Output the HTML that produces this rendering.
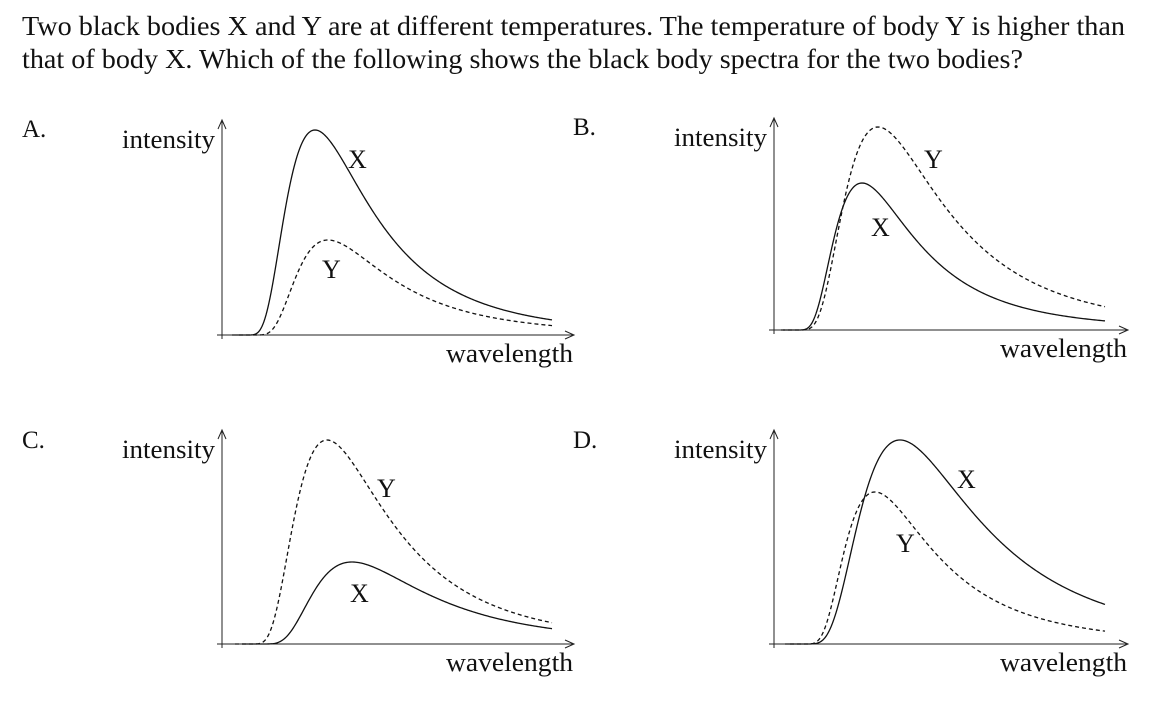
<!DOCTYPE html>
<html><head><meta charset="utf-8"><style>
body{margin:0;background:#fff;width:1158px;height:703px;overflow:hidden}
svg{position:absolute;left:0;top:0}
text{font-family:"Liberation Serif","DejaVu Serif",serif;fill:#111}
</style></head><body>
<svg id="s" width="1158" height="703" viewBox="0 0 1158 703">
<text x="22" y="35" font-size="27" textLength="1103" lengthAdjust="spacingAndGlyphs">Two black bodies X and Y are at different temperatures.  The temperature of body Y is higher than</text>
<text x="22" y="68" font-size="27" textLength="1001" lengthAdjust="spacingAndGlyphs">that of body X.  Which of the following shows the black body spectra for the two bodies?</text>
</svg>
<script>
var s=document.getElementById('s'),NS='http://www.w3.org/2000/svg';
function el(t,a,txt){var e=document.createElementNS(NS,t);for(var k in a)e.setAttribute(k,a[k]);if(txt)e.textContent=txt;s.appendChild(e);}
var A=4.3;
function P(u){return Math.pow(u,-A)*Math.exp(A-A/u);}
function curve(st,px,h,base,xe,dash){var x0=(st-0.22*px)/0.78;var d='';for(var x=Math.floor(x0)+1;x<=xe;x+=1){var u=(x-x0)/(px-x0);var y=base-h*P(u);d+=(d?'L':'M')+x+' '+y.toFixed(2);}
var a={d:d,fill:'none',stroke:'#111','stroke-width':1.3};if(dash)a['stroke-dasharray']='4,3';el('path',a);}
function axes(ax,top,base,right,letter,lx,ly){
el('line',{x1:ax,y1:base+4,x2:ax,y2:top,stroke:'#222','stroke-width':1});
el('line',{x1:ax-5,y1:base,x2:right,y2:base,stroke:'#222','stroke-width':1});
el('path',{d:'M'+(ax-4)+' '+(top+9)+'L'+ax+' '+top+'L'+(ax+4)+' '+(top+9),fill:'none',stroke:'#222'});
el('path',{d:'M'+(right-9)+' '+(base-4)+'L'+right+' '+base+'L'+(right-9)+' '+(base+4),fill:'none',stroke:'#222'});
el('text',{x:ax-100,y:top+28,'font-size':26,textLength:93,lengthAdjust:'spacingAndGlyphs'},'intensity');
el('text',{x:right-128,y:base+27,'font-size':26,textLength:127,lengthAdjust:'spacingAndGlyphs'},'wavelength');
el('text',{x:lx,y:ly,'font-size':25},letter);}
// A
axes(222,120,335,574,'A.',22,137);
curve(250,315,205,335,552,false);
curve(258,328,95,335,552,true);
el('text',{x:348,y:168,'font-size':26},'X');el('text',{x:322,y:278,'font-size':26},'Y');
// B
axes(774,118,330,1128,'B.',573,135);
curve(802,878,203,330,1105,true);
curve(800,862,147,330,1105,false);
el('text',{x:924,y:168,'font-size':26},'Y');el('text',{x:871,y:236,'font-size':26},'X');
// C
axes(222,430,644,574,'C.',22,448);
curve(255,327,204,644,552,true);
curve(266,352,82,644,552,false);
el('text',{x:377,y:497,'font-size':26},'Y');el('text',{x:350,y:602,'font-size':26},'X');
// D
axes(774,430,644,1128,'D.',573,448);
curve(810,900,204,644,1105,false);
curve(808,875,152,644,1105,true);
el('text',{x:957,y:488,'font-size':26},'X');el('text',{x:896,y:552,'font-size':26},'Y');
</script>
</body></html>
